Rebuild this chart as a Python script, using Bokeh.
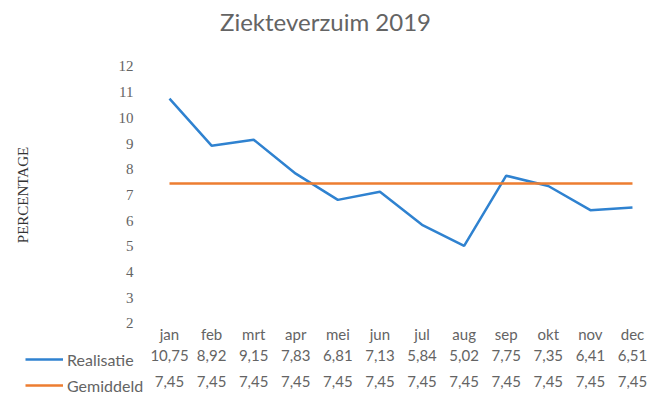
from bokeh.plotting import figure
from bokeh.models import Range1d, FixedTicker, LinearAxis, Legend, LegendItem
from bokeh.embed import file_html
from bokeh.resources import INLINE

months = ["jan", "feb", "mrt", "apr", "mei", "jun", "jul", "aug", "sep", "okt", "nov", "dec"]
realisatie = [10.75, 8.92, 9.15, 7.83, 6.81, 7.13, 5.84, 5.02, 7.75, 7.35, 6.41, 6.51]
gemiddeld = [7.45, 7.45, 7.45, 7.45, 7.45, 7.45, 7.45, 7.45, 7.45, 7.45, 7.45, 7.45]
y_ticks = [2, 3, 4, 5, 6, 7, 8, 9, 10, 11, 12]

TEXT = "#646464"
BLUE = "#2f82d0"
ORANGE = "#ed7d31"

x = list(range(len(months)))

def fmt(v):
    return f"{v:.2f}".replace(".", ",")

p = figure(width=650, height=401, output_backend="svg", toolbar_location=None,
           x_range=Range1d(-4.015, 11.428), y_range=Range1d(-1.035, 13.089),
           min_border_left=0, min_border_right=0, min_border_top=38,
           min_border_bottom=0)
p.outline_line_color = None
p.grid.visible = False

p.title.text = "Ziekteverzuim 2019"
p.title.align = "center"
p.title.vertical_align = "middle"
p.title.text_font = "Lato"
p.title.text_font_size = "24px"
p.title.text_font_style = "normal"
p.title.text_color = TEXT
p.title.standoff = 4

r1 = p.line(x, realisatie, line_color=BLUE, line_width=2.5)
r2 = p.line(x, gemiddeld, line_color=ORANGE, line_width=2.5)

# y axis, drawn at a fixed place inside the frame
ya = p.yaxis[0]
ya.fixed_location = -0.57
ya.bounds = (2, 12)
ya.ticker = FixedTicker(ticks=y_ticks)
ya.axis_line_color = None
ya.major_tick_line_color = None
ya.major_tick_out = 0
ya.minor_tick_line_color = None
ya.major_label_text_font = "Liberation Serif"
ya.major_label_text_font_size = "15px"
ya.major_label_text_color = TEXT
ya.major_label_standoff = 12
ya.axis_label = "PERCENTAGE"
ya.axis_label_text_font = "Liberation Serif"
ya.axis_label_text_font_size = "15px"
ya.axis_label_text_font_style = "normal"
ya.axis_label_text_color = "#333333"
ya.axis_label_standoff = 85

def style_x(ax, loc):
    ax.fixed_location = loc
    ax.ticker = FixedTicker(ticks=x)
    ax.axis_line_color = None
    ax.major_tick_line_color = None
    ax.major_tick_out = 0
    ax.minor_tick_line_color = None
    ax.major_label_text_font = "Lato"
    ax.major_label_text_font_size = "15px"
    ax.major_label_text_color = TEXT
    ax.major_label_standoff = 3

# month row and the two value rows of the data table
xa = p.xaxis[0]
style_x(xa, 2.04)
xa.major_label_overrides = {i: m for i, m in enumerate(months)}

xa2 = LinearAxis()
style_x(xa2, 1.07)
xa2.major_label_overrides = {i: fmt(v) for i, v in enumerate(realisatie)}
p.add_layout(xa2, "below")

xa3 = LinearAxis()
style_x(xa3, 0.06)
xa3.major_label_overrides = {i: fmt(v) for i, v in enumerate(gemiddeld)}
p.add_layout(xa3, "below")

legend = Legend(items=[LegendItem(label="Realisatie", renderers=[r1]),
                       LegendItem(label="Gemiddeld", renderers=[r2])],
                location=(25, 6), orientation="vertical",
                glyph_width=38, glyph_height=20, label_height=20,
                label_standoff=4, spacing=6, padding=0, margin=0,
                border_line_alpha=0, background_fill_alpha=0,
                label_text_font="Lato", label_text_font_size="16px",
                label_text_color=TEXT)
p.add_layout(legend, "center")

open("out.html", "w").write(file_html(p, INLINE))
